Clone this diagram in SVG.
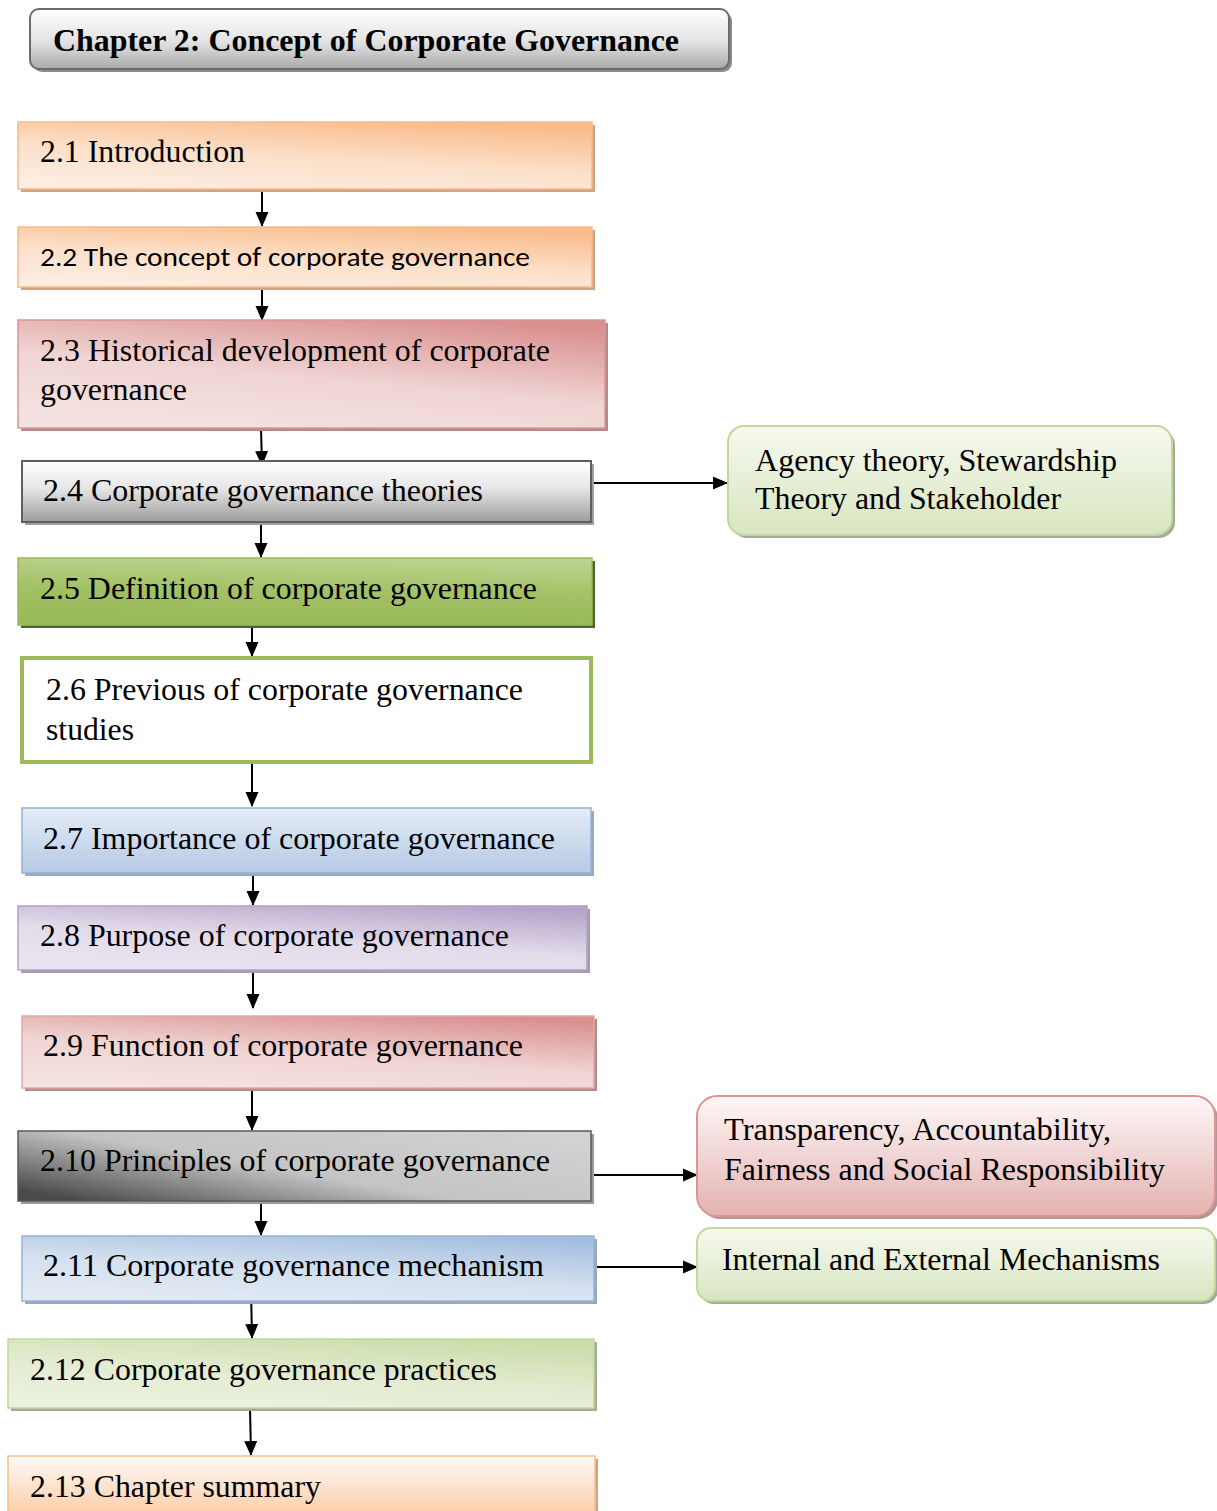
<svg xmlns="http://www.w3.org/2000/svg" width="1217" height="1511" viewBox="0 0 1217 1511">
  <style>
    .t { font-family: "Liberation Serif", "Times New Roman", serif; font-size: 31.5px; fill: #000; }
    .s { font-family: "Carlito", "Liberation Sans", "Open Sans", sans-serif; font-size: 27px; fill: #000; }
    .ttl { font-family: "Liberation Serif", "Times New Roman", serif; font-size: 32px; font-weight: bold; fill: #000; }
    .edge { stroke: #000; stroke-width: 2; fill: none; marker-end: url(#arrow); }
  </style>
  <defs>
    <marker id="arrow" markerUnits="userSpaceOnUse" markerWidth="15" markerHeight="14" refX="14" refY="7" orient="auto">
      <path d="M0,0.5 L15,7 L0,13.5 Z" fill="#000"/>
    </marker>
    <linearGradient id="gTitle" x1="0" y1="0" x2="0" y2="1">
      <stop offset="0" stop-color="#ffffff"/>
      <stop offset="0.55" stop-color="#e2e2e2"/>
      <stop offset="1" stop-color="#a9a9a9"/>
    </linearGradient>
    <linearGradient id="gOrange" x1="0.75" y1="0" x2="0.3" y2="1">
      <stop offset="0" stop-color="#f9bb8a"/>
      <stop offset="0.55" stop-color="#fce0c9"/>
      <stop offset="1" stop-color="#fdece0"/>
    </linearGradient>
    <linearGradient id="gOrangeV" x1="0" y1="0" x2="0" y2="1">
      <stop offset="0" stop-color="#fffaf6"/>
      <stop offset="1" stop-color="#fbcca6"/>
    </linearGradient>
    <linearGradient id="gRed" x1="0.8" y1="0" x2="0.3" y2="1">
      <stop offset="0" stop-color="#d9908f"/>
      <stop offset="0.55" stop-color="#efd4d3"/>
      <stop offset="1" stop-color="#f4e2e1"/>
    </linearGradient>
    <linearGradient id="gGrayV" x1="0" y1="0" x2="0" y2="1">
      <stop offset="0" stop-color="#ffffff"/>
      <stop offset="0.45" stop-color="#e6e6e6"/>
      <stop offset="1" stop-color="#9c9c9c"/>
    </linearGradient>
    <linearGradient id="gGreen" x1="0.6" y1="0" x2="0.45" y2="1">
      <stop offset="0" stop-color="#bcd38f"/>
      <stop offset="0.5" stop-color="#a3c165"/>
      <stop offset="1" stop-color="#9ab958"/>
    </linearGradient>
    <linearGradient id="gBlue" x1="0.8" y1="0" x2="0.3" y2="1">
      <stop offset="0" stop-color="#a4bedf"/>
      <stop offset="0.55" stop-color="#d3e0ef"/>
      <stop offset="1" stop-color="#e2eaf4"/>
    </linearGradient>
    <linearGradient id="gBlueV" x1="0" y1="0" x2="0" y2="1">
      <stop offset="0" stop-color="#e4ecf6"/>
      <stop offset="1" stop-color="#b5cae4"/>
    </linearGradient>
    <linearGradient id="gPurple" x1="0.8" y1="0" x2="0.3" y2="1">
      <stop offset="0" stop-color="#b5a5ca"/>
      <stop offset="0.55" stop-color="#e2dbea"/>
      <stop offset="1" stop-color="#e9e4f0"/>
    </linearGradient>
    <linearGradient id="gDark" x1="0" y1="0.85" x2="1" y2="0.15">
      <stop offset="0" stop-color="#4a4a4a"/>
      <stop offset="0.45" stop-color="#c4c4c4"/>
      <stop offset="1" stop-color="#d2d2d2"/>
    </linearGradient>
    <linearGradient id="gLime" x1="0.8" y1="0" x2="0.3" y2="1">
      <stop offset="0" stop-color="#cbdcaa"/>
      <stop offset="0.55" stop-color="#e3ecd1"/>
      <stop offset="1" stop-color="#ebf1df"/>
    </linearGradient>
    <linearGradient id="gLimeV" x1="0" y1="0" x2="0" y2="1">
      <stop offset="0" stop-color="#f6f9ef"/>
      <stop offset="1" stop-color="#d8e5bf"/>
    </linearGradient>
    <linearGradient id="gPinkV" x1="0" y1="0" x2="0" y2="1">
      <stop offset="0" stop-color="#fdf7f7"/>
      <stop offset="1" stop-color="#e4b2b1"/>
    </linearGradient>
  </defs>

  <!-- chapter heading -->
  <g id="title">
    <rect x="33" y="12" width="699" height="60" rx="9" fill="#8c8c8c"/>
    <rect x="30" y="9" width="699" height="60" rx="9" fill="url(#gTitle)" stroke="#6b6b6b" stroke-width="2"/>
    <text class="ttl" x="53" y="51" textLength="626" lengthAdjust="spacingAndGlyphs">Chapter 2: Concept of Corporate Governance</text>
  </g>

  <!-- connectors -->
  <g id="connectors">
    <line class="edge" x1="262" y1="190" x2="262" y2="226"/>
    <line class="edge" x1="262" y1="288" x2="262" y2="320"/>
    <line class="edge" x1="261" y1="428" x2="262" y2="465"/>
    <line class="edge" x1="592" y1="483" x2="727" y2="483"/>
    <line class="edge" x1="261" y1="524" x2="261" y2="557"/>
    <line class="edge" x1="252" y1="626" x2="252" y2="656"/>
    <line class="edge" x1="252" y1="764" x2="252" y2="806"/>
    <line class="edge" x1="253" y1="874" x2="253" y2="905"/>
    <line class="edge" x1="253" y1="971" x2="253" y2="1008"/>
    <line class="edge" x1="252" y1="1089" x2="252" y2="1130"/>
    <line class="edge" x1="592" y1="1175" x2="697" y2="1175"/>
    <line class="edge" x1="261" y1="1201" x2="261" y2="1235"/>
    <line class="edge" x1="592" y1="1267" x2="697" y2="1267"/>
    <line class="edge" x1="251" y1="1290" x2="252" y2="1338"/>
    <line class="edge" x1="250" y1="1408" x2="251" y2="1455"/>
  </g>

  <g id="n2_1">
    <rect x="21" y="125" width="574" height="67" fill="#cfa486"/>
    <rect x="18" y="122" width="574" height="67" fill="url(#gOrange)" stroke="#f6b98a" stroke-width="1.5"/>
    <text class="t" x="40" y="162" textLength="205" lengthAdjust="spacingAndGlyphs">2.1 Introduction</text>
  </g>

  <g id="n2_2">
    <rect x="21" y="230" width="574" height="60" fill="#cfa486"/>
    <rect x="18" y="227" width="574" height="60" fill="url(#gOrange)" stroke="#f6b98a" stroke-width="1.5"/>
    <text class="s" x="40" y="266" textLength="490" lengthAdjust="spacingAndGlyphs">2.2 The concept of corporate governance</text>
  </g>

  <g id="n2_3">
    <rect x="21" y="323" width="587" height="108" fill="#b58b8a"/>
    <rect x="18" y="320" width="587" height="108" fill="url(#gRed)" stroke="#d99694" stroke-width="1.5"/>
    <text class="t" x="40" y="361" textLength="510" lengthAdjust="spacingAndGlyphs">2.3 Historical development of corporate</text>
    <text class="t" x="40" y="400" textLength="147" lengthAdjust="spacingAndGlyphs">governance</text>
  </g>

  <g id="n2_4">
    <rect x="25" y="464" width="569" height="61" fill="#a0a0a0"/>
    <rect x="22" y="461" width="569" height="61" fill="url(#gGrayV)" stroke="#5f5f5f" stroke-width="2"/>
    <text class="t" x="43" y="501" textLength="440" lengthAdjust="spacingAndGlyphs">2.4 Corporate governance theories</text>
  </g>

  <g id="theories">
    <rect x="731" y="429" width="444" height="109" rx="16" fill="#a3a99b"/>
    <rect x="728" y="426" width="444" height="109" rx="16" fill="url(#gLimeV)" stroke="#c3d69b" stroke-width="2"/>
    <text class="t" x="755" y="471" textLength="362" lengthAdjust="spacingAndGlyphs">Agency theory, Stewardship</text>
    <text class="t" x="755" y="509" textLength="306" lengthAdjust="spacingAndGlyphs">Theory and Stakeholder</text>
  </g>

  <g id="n2_5">
    <rect x="21" y="561" width="574" height="67" fill="#4f6228"/>
    <rect x="18" y="558" width="574" height="67" fill="url(#gGreen)" stroke="#9bbb59" stroke-width="1.5"/>
    <text class="t" x="40" y="599" textLength="497" lengthAdjust="spacingAndGlyphs">2.5 Definition of corporate governance</text>
  </g>

  <g id="n2_6">
    <rect x="22" y="658" width="569" height="104" fill="#ffffff" stroke="#9bbb59" stroke-width="4"/>
    <text class="t" x="46" y="700" textLength="477" lengthAdjust="spacingAndGlyphs">2.6 Previous of corporate governance</text>
    <text class="t" x="46" y="740" textLength="88" lengthAdjust="spacingAndGlyphs">studies</text>
  </g>

  <g id="n2_7">
    <rect x="25" y="811" width="569" height="65" fill="#9aa8bb"/>
    <rect x="22" y="808" width="569" height="65" fill="url(#gBlueV)" stroke="#95b3d7" stroke-width="1.5"/>
    <text class="t" x="43" y="849" textLength="512" lengthAdjust="spacingAndGlyphs">2.7 Importance of corporate governance</text>
  </g>

  <g id="n2_8">
    <rect x="21" y="909" width="569" height="64" fill="#a49db0"/>
    <rect x="18" y="906" width="569" height="64" fill="url(#gPurple)" stroke="#b2a1c7" stroke-width="1.5"/>
    <text class="t" x="40" y="946" textLength="469" lengthAdjust="spacingAndGlyphs">2.8 Purpose of corporate governance</text>
  </g>

  <g id="n2_9">
    <rect x="25" y="1019" width="572" height="72" fill="#b58b8a"/>
    <rect x="22" y="1016" width="572" height="72" fill="url(#gRed)" stroke="#e0a9a8" stroke-width="1.5"/>
    <text class="t" x="43" y="1056" textLength="480" lengthAdjust="spacingAndGlyphs">2.9 Function of corporate governance</text>
  </g>

  <g id="n2_10">
    <rect x="21" y="1134" width="573" height="70" fill="#9a9a9a"/>
    <rect x="18" y="1131" width="573" height="70" fill="url(#gDark)" stroke="#5a5a5a" stroke-width="1.5"/>
    <text class="t" x="40" y="1171" textLength="510" lengthAdjust="spacingAndGlyphs">2.10 Principles of corporate governance</text>
  </g>

  <g id="principles">
    <rect x="700" y="1099" width="518" height="120" rx="20" fill="#b39797"/>
    <rect x="697" y="1096" width="518" height="120" rx="20" fill="url(#gPinkV)" stroke="#d99694" stroke-width="2"/>
    <text class="t" x="724" y="1140" textLength="387" lengthAdjust="spacingAndGlyphs">Transparency, Accountability,</text>
    <text class="t" x="724" y="1180" textLength="441" lengthAdjust="spacingAndGlyphs">Fairness and Social Responsibility</text>
  </g>

  <g id="n2_11">
    <rect x="25" y="1239" width="572" height="65" fill="#9aa8bb"/>
    <rect x="22" y="1236" width="572" height="65" fill="url(#gBlue)" stroke="#95b3d7" stroke-width="1.5"/>
    <text class="t" x="43" y="1276" textLength="501" lengthAdjust="spacingAndGlyphs">2.11 Corporate governance mechanism</text>
  </g>

  <g id="mechanisms">
    <rect x="700" y="1231" width="518" height="73" rx="14" fill="#a3a99b"/>
    <rect x="697" y="1228" width="518" height="73" rx="14" fill="url(#gLimeV)" stroke="#c3d69b" stroke-width="2"/>
    <text class="t" x="722" y="1270" textLength="438" lengthAdjust="spacingAndGlyphs">Internal and External Mechanisms</text>
  </g>

  <g id="n2_12">
    <rect x="11" y="1342" width="586" height="69" fill="#a4ab98"/>
    <rect x="8" y="1339" width="586" height="69" fill="url(#gLime)" stroke="#c3d69b" stroke-width="1.5"/>
    <text class="t" x="30" y="1380" textLength="467" lengthAdjust="spacingAndGlyphs">2.12 Corporate governance practices</text>
  </g>

  <g id="n2_13">
    <rect x="11" y="1459" width="587" height="60" fill="#cfa486"/>
    <rect x="8" y="1456" width="587" height="60" fill="url(#gOrangeV)" stroke="#fabf8f" stroke-width="1.5"/>
    <text class="t" x="30" y="1497" textLength="291" lengthAdjust="spacingAndGlyphs">2.13 Chapter summary</text>
  </g>
</svg>
